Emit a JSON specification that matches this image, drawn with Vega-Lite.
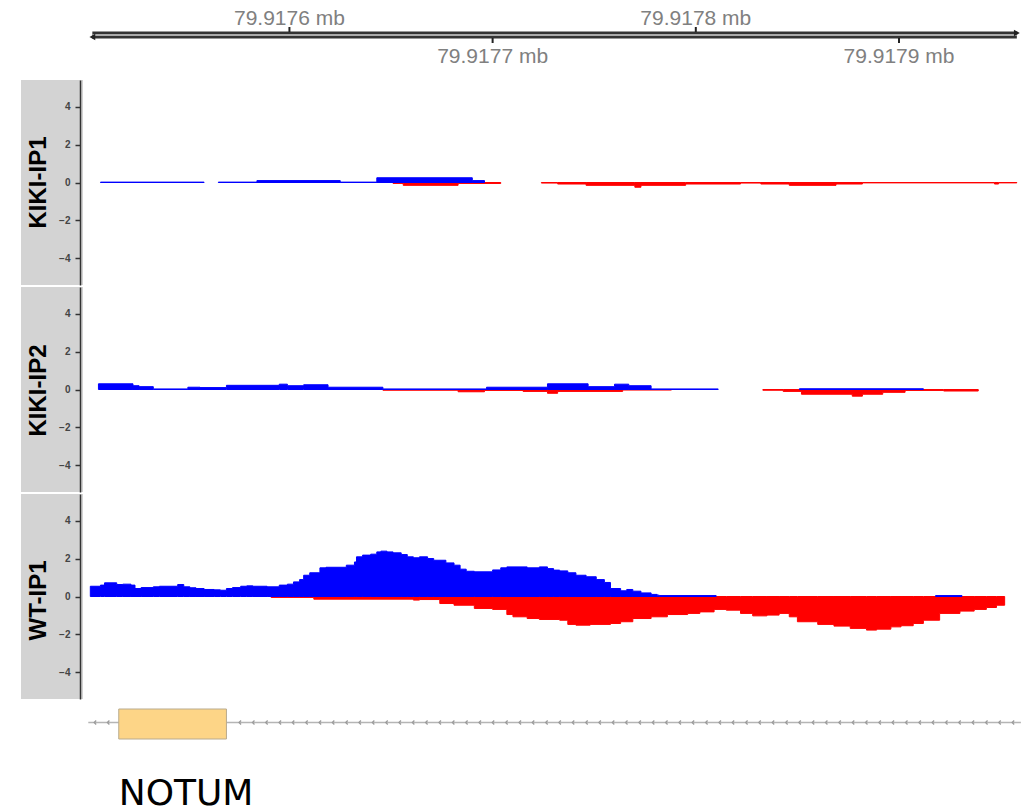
{
"$schema": "https://vega.github.io/schema/vega-lite/v6.json",
"padding": {"left": 21, "top": 0, "right": 0, "bottom": 0},
"background": "white",
"columns": 2,
"spacing": {"row": 2, "column": 0},
"bounds": "flush",
"config": {"view": {"stroke": null}, "font": "Liberation Sans"},
"datasets": {
"axisline": [{"start": 79917503, "end": 79917958}],
"ticks": [
{"pos": 79917600, "label": "79.9176 mb", "side": "above"},
{"pos": 79917700, "label": "79.9177 mb", "side": "below"},
{"pos": 79917800, "label": "79.9178 mb", "side": "above"},
{"pos": 79917900, "label": "79.9179 mb", "side": "below"}
],
"gene": [{"start": 79917516, "end": 79917569, "name": "NOTUM", "lineStart": 79917501, "lineEnd": 79917960}],
"chev": [
{"pos": 79917504.4},{"pos": 79917510.9},{"pos": 79917575.7},{"pos": 79917582.3},{"pos": 79917588.8},{"pos": 79917595.4},{"pos": 79917601.9},{"pos": 79917608.5},{"pos": 79917615.1},{"pos": 79917621.6},{"pos": 79917628.2},{"pos": 79917634.7},{"pos": 79917641.3},{"pos": 79917647.9},{"pos": 79917654.4},{"pos": 79917661.0},{"pos": 79917667.5},{"pos": 79917674.1},{"pos": 79917680.7},{"pos": 79917687.2},{"pos": 79917693.8},{"pos": 79917700.3},{"pos": 79917706.9},{"pos": 79917713.5},{"pos": 79917720.0},{"pos": 79917726.6},{"pos": 79917733.1},{"pos": 79917739.7},{"pos": 79917746.3},{"pos": 79917752.8},{"pos": 79917759.4},{"pos": 79917765.9},{"pos": 79917772.5},{"pos": 79917779.1},{"pos": 79917785.6},{"pos": 79917792.2},{"pos": 79917798.7},{"pos": 79917805.3},{"pos": 79917811.9},{"pos": 79917818.4},{"pos": 79917825.0},{"pos": 79917831.5},{"pos": 79917838.1},{"pos": 79917844.7},{"pos": 79917851.2},{"pos": 79917857.8},{"pos": 79917864.3},{"pos": 79917870.9},{"pos": 79917877.5},{"pos": 79917884.0},{"pos": 79917890.6},{"pos": 79917897.1},{"pos": 79917903.7},{"pos": 79917910.3},{"pos": 79917916.8},{"pos": 79917923.4},{"pos": 79917929.9},{"pos": 79917936.5},{"pos": 79917943.1},{"pos": 79917949.6},{"pos": 79917956.2}
],
"cov": [
{"sample":"KIKI-IP1","strand":"+","seg":1,"pos":79917507,"v":0.02},
{"sample":"KIKI-IP1","strand":"+","seg":1,"pos":79917558,"v":0.02},
{"sample":"KIKI-IP1","strand":"+","seg":2,"pos":79917565,"v":0.02},
{"sample":"KIKI-IP1","strand":"+","seg":2,"pos":79917584,"v":0.10},
{"sample":"KIKI-IP1","strand":"+","seg":2,"pos":79917625,"v":0.02},
{"sample":"KIKI-IP1","strand":"+","seg":2,"pos":79917643,"v":0.25},
{"sample":"KIKI-IP1","strand":"+","seg":2,"pos":79917690,"v":0.10},
{"sample":"KIKI-IP1","strand":"+","seg":2,"pos":79917696,"v":0.10},
{"sample":"KIKI-IP1","strand":"-","seg":1,"pos":79917651,"v":-0.05},
{"sample":"KIKI-IP1","strand":"-","seg":1,"pos":79917656,"v":-0.15},
{"sample":"KIKI-IP1","strand":"-","seg":1,"pos":79917683,"v":-0.05},
{"sample":"KIKI-IP1","strand":"-","seg":1,"pos":79917704,"v":-0.05},
{"sample":"KIKI-IP1","strand":"-","seg":2,"pos":79917724,"v":-0.03},
{"sample":"KIKI-IP1","strand":"-","seg":2,"pos":79917732,"v":-0.08},
{"sample":"KIKI-IP1","strand":"-","seg":2,"pos":79917746,"v":-0.15},
{"sample":"KIKI-IP1","strand":"-","seg":2,"pos":79917770,"v":-0.25},
{"sample":"KIKI-IP1","strand":"-","seg":2,"pos":79917773,"v":-0.15},
{"sample":"KIKI-IP1","strand":"-","seg":2,"pos":79917795,"v":-0.08},
{"sample":"KIKI-IP1","strand":"-","seg":2,"pos":79917822,"v":-0.03},
{"sample":"KIKI-IP1","strand":"-","seg":2,"pos":79917832,"v":-0.08},
{"sample":"KIKI-IP1","strand":"-","seg":2,"pos":79917846,"v":-0.15},
{"sample":"KIKI-IP1","strand":"-","seg":2,"pos":79917869,"v":-0.08},
{"sample":"KIKI-IP1","strand":"-","seg":2,"pos":79917882,"v":-0.02},
{"sample":"KIKI-IP1","strand":"-","seg":2,"pos":79917947,"v":-0.08},
{"sample":"KIKI-IP1","strand":"-","seg":2,"pos":79917949,"v":-0.02},
{"sample":"KIKI-IP1","strand":"-","seg":2,"pos":79917958,"v":-0.02},

{"sample":"KIKI-IP2","strand":"+","seg":1,"pos":79917506,"v":0.30},
{"sample":"KIKI-IP2","strand":"+","seg":1,"pos":79917523,"v":0.20},
{"sample":"KIKI-IP2","strand":"+","seg":1,"pos":79917526,"v":0.15},
{"sample":"KIKI-IP2","strand":"+","seg":1,"pos":79917533,"v":0.03},
{"sample":"KIKI-IP2","strand":"+","seg":1,"pos":79917550,"v":0.12},
{"sample":"KIKI-IP2","strand":"+","seg":1,"pos":79917556,"v":0.10},
{"sample":"KIKI-IP2","strand":"+","seg":1,"pos":79917569,"v":0.22},
{"sample":"KIKI-IP2","strand":"+","seg":1,"pos":79917595,"v":0.28},
{"sample":"KIKI-IP2","strand":"+","seg":1,"pos":79917599,"v":0.20},
{"sample":"KIKI-IP2","strand":"+","seg":1,"pos":79917607,"v":0.25},
{"sample":"KIKI-IP2","strand":"+","seg":1,"pos":79917619,"v":0.12},
{"sample":"KIKI-IP2","strand":"+","seg":1,"pos":79917646,"v":0.03},
{"sample":"KIKI-IP2","strand":"+","seg":1,"pos":79917697,"v":0.12},
{"sample":"KIKI-IP2","strand":"+","seg":1,"pos":79917727,"v":0.30},
{"sample":"KIKI-IP2","strand":"+","seg":1,"pos":79917747,"v":0.15},
{"sample":"KIKI-IP2","strand":"+","seg":1,"pos":79917760,"v":0.28},
{"sample":"KIKI-IP2","strand":"+","seg":1,"pos":79917767,"v":0.20},
{"sample":"KIKI-IP2","strand":"+","seg":1,"pos":79917778,"v":0.03},
{"sample":"KIKI-IP2","strand":"+","seg":1,"pos":79917811,"v":0.03},
{"sample":"KIKI-IP2","strand":"+","seg":2,"pos":79917851,"v":0.04},
{"sample":"KIKI-IP2","strand":"+","seg":2,"pos":79917912,"v":0.04},
{"sample":"KIKI-IP2","strand":"-","seg":1,"pos":79917646,"v":-0.04},
{"sample":"KIKI-IP2","strand":"-","seg":1,"pos":79917683,"v":-0.12},
{"sample":"KIKI-IP2","strand":"-","seg":1,"pos":79917696,"v":-0.05},
{"sample":"KIKI-IP2","strand":"-","seg":1,"pos":79917715,"v":-0.10},
{"sample":"KIKI-IP2","strand":"-","seg":1,"pos":79917727,"v":-0.20},
{"sample":"KIKI-IP2","strand":"-","seg":1,"pos":79917732,"v":-0.10},
{"sample":"KIKI-IP2","strand":"-","seg":1,"pos":79917764,"v":-0.03},
{"sample":"KIKI-IP2","strand":"-","seg":1,"pos":79917788,"v":-0.03},
{"sample":"KIKI-IP2","strand":"-","seg":2,"pos":79917833,"v":-0.04},
{"sample":"KIKI-IP2","strand":"-","seg":2,"pos":79917843,"v":-0.10},
{"sample":"KIKI-IP2","strand":"-","seg":2,"pos":79917852,"v":-0.25},
{"sample":"KIKI-IP2","strand":"-","seg":2,"pos":79917877,"v":-0.35},
{"sample":"KIKI-IP2","strand":"-","seg":2,"pos":79917882,"v":-0.25},
{"sample":"KIKI-IP2","strand":"-","seg":2,"pos":79917892,"v":-0.15},
{"sample":"KIKI-IP2","strand":"-","seg":2,"pos":79917903,"v":-0.05},
{"sample":"KIKI-IP2","strand":"-","seg":2,"pos":79917922,"v":-0.08},
{"sample":"KIKI-IP2","strand":"-","seg":2,"pos":79917939,"v":-0.08},

{"sample":"WT-IP1","strand":"+","seg":1,"pos":79917502,"v":0.54},
{"sample":"WT-IP1","strand":"+","seg":1,"pos":79917507,"v":0.60},
{"sample":"WT-IP1","strand":"+","seg":1,"pos":79917509,"v":0.72},
{"sample":"WT-IP1","strand":"+","seg":1,"pos":79917515,"v":0.63},
{"sample":"WT-IP1","strand":"+","seg":1,"pos":79917518,"v":0.65},
{"sample":"WT-IP1","strand":"+","seg":1,"pos":79917522,"v":0.60},
{"sample":"WT-IP1","strand":"+","seg":1,"pos":79917524,"v":0.42},
{"sample":"WT-IP1","strand":"+","seg":1,"pos":79917527,"v":0.47},
{"sample":"WT-IP1","strand":"+","seg":1,"pos":79917533,"v":0.51},
{"sample":"WT-IP1","strand":"+","seg":1,"pos":79917536,"v":0.54},
{"sample":"WT-IP1","strand":"+","seg":1,"pos":79917545,"v":0.63},
{"sample":"WT-IP1","strand":"+","seg":1,"pos":79917548,"v":0.51},
{"sample":"WT-IP1","strand":"+","seg":1,"pos":79917551,"v":0.46},
{"sample":"WT-IP1","strand":"+","seg":1,"pos":79917554,"v":0.42},
{"sample":"WT-IP1","strand":"+","seg":1,"pos":79917558,"v":0.37},
{"sample":"WT-IP1","strand":"+","seg":1,"pos":79917563,"v":0.35},
{"sample":"WT-IP1","strand":"+","seg":1,"pos":79917566,"v":0.33},
{"sample":"WT-IP1","strand":"+","seg":1,"pos":79917569,"v":0.42},
{"sample":"WT-IP1","strand":"+","seg":1,"pos":79917572,"v":0.47},
{"sample":"WT-IP1","strand":"+","seg":1,"pos":79917576,"v":0.54},
{"sample":"WT-IP1","strand":"+","seg":1,"pos":79917579,"v":0.56},
{"sample":"WT-IP1","strand":"+","seg":1,"pos":79917582,"v":0.54},
{"sample":"WT-IP1","strand":"+","seg":1,"pos":79917589,"v":0.51},
{"sample":"WT-IP1","strand":"+","seg":1,"pos":79917595,"v":0.60},
{"sample":"WT-IP1","strand":"+","seg":1,"pos":79917599,"v":0.65},
{"sample":"WT-IP1","strand":"+","seg":1,"pos":79917602,"v":0.77},
{"sample":"WT-IP1","strand":"+","seg":1,"pos":79917605,"v":0.89},
{"sample":"WT-IP1","strand":"+","seg":1,"pos":79917607,"v":1.12},
{"sample":"WT-IP1","strand":"+","seg":1,"pos":79917610,"v":1.25},
{"sample":"WT-IP1","strand":"+","seg":1,"pos":79917615,"v":1.51},
{"sample":"WT-IP1","strand":"+","seg":1,"pos":79917618,"v":1.54},
{"sample":"WT-IP1","strand":"+","seg":1,"pos":79917628,"v":1.65},
{"sample":"WT-IP1","strand":"+","seg":1,"pos":79917632,"v":1.82},
{"sample":"WT-IP1","strand":"+","seg":1,"pos":79917633,"v":2.09},
{"sample":"WT-IP1","strand":"+","seg":1,"pos":79917636,"v":2.18},
{"sample":"WT-IP1","strand":"+","seg":1,"pos":79917640,"v":2.23},
{"sample":"WT-IP1","strand":"+","seg":1,"pos":79917643,"v":2.35},
{"sample":"WT-IP1","strand":"+","seg":1,"pos":79917645,"v":2.39},
{"sample":"WT-IP1","strand":"+","seg":1,"pos":79917648,"v":2.35},
{"sample":"WT-IP1","strand":"+","seg":1,"pos":79917651,"v":2.30},
{"sample":"WT-IP1","strand":"+","seg":1,"pos":79917655,"v":2.21},
{"sample":"WT-IP1","strand":"+","seg":1,"pos":79917658,"v":2.09},
{"sample":"WT-IP1","strand":"+","seg":1,"pos":79917661,"v":2.04},
{"sample":"WT-IP1","strand":"+","seg":1,"pos":79917664,"v":2.09},
{"sample":"WT-IP1","strand":"+","seg":1,"pos":79917668,"v":2.00},
{"sample":"WT-IP1","strand":"+","seg":1,"pos":79917671,"v":1.91},
{"sample":"WT-IP1","strand":"+","seg":1,"pos":79917677,"v":1.77},
{"sample":"WT-IP1","strand":"+","seg":1,"pos":79917681,"v":1.65},
{"sample":"WT-IP1","strand":"+","seg":1,"pos":79917684,"v":1.44},
{"sample":"WT-IP1","strand":"+","seg":1,"pos":79917687,"v":1.33},
{"sample":"WT-IP1","strand":"+","seg":1,"pos":79917691,"v":1.30},
{"sample":"WT-IP1","strand":"+","seg":1,"pos":79917700,"v":1.40},
{"sample":"WT-IP1","strand":"+","seg":1,"pos":79917704,"v":1.51},
{"sample":"WT-IP1","strand":"+","seg":1,"pos":79917707,"v":1.56},
{"sample":"WT-IP1","strand":"+","seg":1,"pos":79917717,"v":1.51},
{"sample":"WT-IP1","strand":"+","seg":1,"pos":79917723,"v":1.56},
{"sample":"WT-IP1","strand":"+","seg":1,"pos":79917727,"v":1.47},
{"sample":"WT-IP1","strand":"+","seg":1,"pos":79917730,"v":1.39},
{"sample":"WT-IP1","strand":"+","seg":1,"pos":79917733,"v":1.35},
{"sample":"WT-IP1","strand":"+","seg":1,"pos":79917737,"v":1.25},
{"sample":"WT-IP1","strand":"+","seg":1,"pos":79917741,"v":1.12},
{"sample":"WT-IP1","strand":"+","seg":1,"pos":79917746,"v":1.04},
{"sample":"WT-IP1","strand":"+","seg":1,"pos":79917751,"v":0.89},
{"sample":"WT-IP1","strand":"+","seg":1,"pos":79917755,"v":0.74},
{"sample":"WT-IP1","strand":"+","seg":1,"pos":79917758,"v":0.42},
{"sample":"WT-IP1","strand":"+","seg":1,"pos":79917763,"v":0.30},
{"sample":"WT-IP1","strand":"+","seg":1,"pos":79917766,"v":0.37},
{"sample":"WT-IP1","strand":"+","seg":1,"pos":79917769,"v":0.28},
{"sample":"WT-IP1","strand":"+","seg":1,"pos":79917773,"v":0.19},
{"sample":"WT-IP1","strand":"+","seg":1,"pos":79917778,"v":0.11},
{"sample":"WT-IP1","strand":"+","seg":1,"pos":79917781,"v":0.07},
{"sample":"WT-IP1","strand":"+","seg":1,"pos":79917782,"v":0.05},
{"sample":"WT-IP1","strand":"+","seg":1,"pos":79917810,"v":0.05},
{"sample":"WT-IP1","strand":"+","seg":2,"pos":79917918,"v":0.05},
{"sample":"WT-IP1","strand":"+","seg":2,"pos":79917931,"v":0.05},
{"sample":"WT-IP1","strand":"-","seg":1,"pos":79917591,"v":-0.05},
{"sample":"WT-IP1","strand":"-","seg":1,"pos":79917612,"v":-0.14},
{"sample":"WT-IP1","strand":"-","seg":1,"pos":79917661,"v":-0.19},
{"sample":"WT-IP1","strand":"-","seg":1,"pos":79917664,"v":-0.16},
{"sample":"WT-IP1","strand":"-","seg":1,"pos":79917674,"v":-0.37},
{"sample":"WT-IP1","strand":"-","seg":1,"pos":79917681,"v":-0.46},
{"sample":"WT-IP1","strand":"-","seg":1,"pos":79917691,"v":-0.63},
{"sample":"WT-IP1","strand":"-","seg":1,"pos":79917700,"v":-0.68},
{"sample":"WT-IP1","strand":"-","seg":1,"pos":79917707,"v":-0.95},
{"sample":"WT-IP1","strand":"-","seg":1,"pos":79917710,"v":-1.07},
{"sample":"WT-IP1","strand":"-","seg":1,"pos":79917717,"v":-1.16},
{"sample":"WT-IP1","strand":"-","seg":1,"pos":79917723,"v":-1.21},
{"sample":"WT-IP1","strand":"-","seg":1,"pos":79917733,"v":-1.25},
{"sample":"WT-IP1","strand":"-","seg":1,"pos":79917737,"v":-1.47},
{"sample":"WT-IP1","strand":"-","seg":1,"pos":79917741,"v":-1.51},
{"sample":"WT-IP1","strand":"-","seg":1,"pos":79917748,"v":-1.47},
{"sample":"WT-IP1","strand":"-","seg":1,"pos":79917758,"v":-1.42},
{"sample":"WT-IP1","strand":"-","seg":1,"pos":79917763,"v":-1.33},
{"sample":"WT-IP1","strand":"-","seg":1,"pos":79917769,"v":-1.16},
{"sample":"WT-IP1","strand":"-","seg":1,"pos":79917778,"v":-1.07},
{"sample":"WT-IP1","strand":"-","seg":1,"pos":79917786,"v":-0.95},
{"sample":"WT-IP1","strand":"-","seg":1,"pos":79917796,"v":-0.89},
{"sample":"WT-IP1","strand":"-","seg":1,"pos":79917802,"v":-0.81},
{"sample":"WT-IP1","strand":"-","seg":1,"pos":79917809,"v":-0.68},
{"sample":"WT-IP1","strand":"-","seg":1,"pos":79917815,"v":-0.72},
{"sample":"WT-IP1","strand":"-","seg":1,"pos":79917822,"v":-0.89},
{"sample":"WT-IP1","strand":"-","seg":1,"pos":79917828,"v":-1.02},
{"sample":"WT-IP1","strand":"-","seg":1,"pos":79917835,"v":-0.98},
{"sample":"WT-IP1","strand":"-","seg":1,"pos":79917841,"v":-0.89},
{"sample":"WT-IP1","strand":"-","seg":1,"pos":79917846,"v":-1.07},
{"sample":"WT-IP1","strand":"-","seg":1,"pos":79917850,"v":-1.33},
{"sample":"WT-IP1","strand":"-","seg":1,"pos":79917860,"v":-1.47},
{"sample":"WT-IP1","strand":"-","seg":1,"pos":79917868,"v":-1.56},
{"sample":"WT-IP1","strand":"-","seg":1,"pos":79917876,"v":-1.68},
{"sample":"WT-IP1","strand":"-","seg":1,"pos":79917884,"v":-1.77},
{"sample":"WT-IP1","strand":"-","seg":1,"pos":79917889,"v":-1.72},
{"sample":"WT-IP1","strand":"-","seg":1,"pos":79917896,"v":-1.60},
{"sample":"WT-IP1","strand":"-","seg":1,"pos":79917901,"v":-1.54},
{"sample":"WT-IP1","strand":"-","seg":1,"pos":79917907,"v":-1.42},
{"sample":"WT-IP1","strand":"-","seg":1,"pos":79917912,"v":-1.25},
{"sample":"WT-IP1","strand":"-","seg":1,"pos":79917920,"v":-0.89},
{"sample":"WT-IP1","strand":"-","seg":1,"pos":79917930,"v":-0.77},
{"sample":"WT-IP1","strand":"-","seg":1,"pos":79917937,"v":-0.68},
{"sample":"WT-IP1","strand":"-","seg":1,"pos":79917943,"v":-0.58},
{"sample":"WT-IP1","strand":"-","seg":1,"pos":79917948,"v":-0.46},
{"sample":"WT-IP1","strand":"-","seg":1,"pos":79917952,"v":-0.46}
]
},
"concat": [
{"width": 62, "height": 78, "data": {"values": []}, "mark": "point", "encoding": {}},
{"width": 944, "height": 78,
 "layer": [
  {"data": {"name": "axisline"}, "mark": {"type": "rule", "color": "#333333", "strokeWidth": 7},
   "encoding": {"x": {"field": "start", "type": "quantitative", "scale": {"domain": [79917498.4, 79917963], "nice": false, "zero": false}, "axis": null},
                "x2": {"field": "end"},
                "y": {"datum": 0, "type": "quantitative", "scale": {"domain": [-35, 43], "reverse": true, "nice": false, "zero": false}, "axis": null}}},
  {"data": {"name": "axisline"}, "mark": {"type": "rule", "color": "#aaaaaa", "strokeWidth": 2},
   "encoding": {"x": {"field": "start", "type": "quantitative"}, "x2": {"field": "end"}, "y": {"datum": 0, "type": "quantitative"}}},
  {"data": {"name": "axisline"}, "mark": {"type": "point", "shape": "triangle-left", "filled": true, "color": "#222222", "size": 45, "opacity": 1},
   "encoding": {"x": {"field": "start", "type": "quantitative"}, "y": {"datum": 2, "type": "quantitative"}}},
  {"data": {"name": "axisline"}, "mark": {"type": "point", "shape": "triangle-right", "filled": true, "color": "#222222", "size": 45, "opacity": 1},
   "encoding": {"x": {"field": "end", "type": "quantitative"}, "y": {"datum": -2, "type": "quantitative"}}},
  {"data": {"name": "ticks"}, "transform": [{"filter": "datum.side == 'above'"}], "mark": {"type": "rule", "color": "#222222", "strokeWidth": 2},
   "encoding": {"x": {"field": "pos", "type": "quantitative"}, "y": {"datum": -8, "type": "quantitative"}, "y2": {"datum": -3}}},
  {"data": {"name": "ticks"}, "transform": [{"filter": "datum.side == 'below'"}], "mark": {"type": "rule", "color": "#222222", "strokeWidth": 2},
   "encoding": {"x": {"field": "pos", "type": "quantitative"}, "y": {"datum": 3, "type": "quantitative"}, "y2": {"datum": 8}}},
  {"data": {"name": "ticks"}, "transform": [{"filter": "datum.side == 'above'"}], "mark": {"type": "text", "color": "#808080", "fontSize": 21, "font": "Liberation Sans", "baseline": "alphabetic", "align": "center"},
   "encoding": {"x": {"field": "pos", "type": "quantitative"}, "y": {"datum": -10, "type": "quantitative"}, "text": {"field": "label"}}},
  {"data": {"name": "ticks"}, "transform": [{"filter": "datum.side == 'below'"}], "mark": {"type": "text", "color": "#808080", "fontSize": 21, "font": "Liberation Sans", "baseline": "alphabetic", "align": "center"},
   "encoding": {"x": {"field": "pos", "type": "quantitative"}, "y": {"datum": 27.5, "type": "quantitative"}, "text": {"field": "label"}}}
 ]},

{"width": 62, "height": 205, "view": {"fill": "#d3d3d3", "stroke": null}, "data": {"values": []}, "mark": "point", "encoding": {}},
{"width": 944, "height": 205, "data": {"name": "cov"},
 "transform": [{"filter": "datum.sample == 'KIKI-IP1'"}],
 "encoding": {
  "x": {"field": "pos", "type": "quantitative", "scale": {"domain": [79917498.4, 79917963], "nice": false, "zero": false}, "axis": null},
  "y": {"field": "v", "type": "quantitative", "scale": {"domain": [-5.4, 5.4], "nice": false},
        "axis": {"values": [-4, -2, 0, 2, 4], "title": "KIKI-IP1", "grid": false, "offset": 3, "tickSize": 5, "labelPadding": 5,
                 "domainColor": "#333333", "domainWidth": 1.5, "tickColor": "#333333", "tickWidth": 1.5,
                 "labelFont": "Liberation Sans", "labelFontSize": 10, "labelFontWeight": "bold", "labelColor": "#444444",
                 "titleFont": "Liberation Sans", "titleFontSize": 24, "titleFontWeight": "bold", "titleColor": "#000000",
                 "titleAngle": 270, "titleX": -35, "titleY": 102, "titleAlign": "center", "titleBaseline": "alphabetic"}},
  "y2": {"datum": 0},
  "detail": {"field": "seg"}
 },
 "layer": [
  {"transform": [{"filter": "datum.strand == '-'"}], "mark": {"type": "area", "interpolate": "step-after", "color": "#ff0000", "stroke": "#ff0000", "strokeWidth": 1}},
  {"transform": [{"filter": "datum.strand == '+'"}], "mark": {"type": "area", "interpolate": "step-after", "color": "#0000ff", "stroke": "#0000ff", "strokeWidth": 1}}
 ]},

{"width": 62, "height": 205, "view": {"fill": "#d3d3d3", "stroke": null}, "data": {"values": []}, "mark": "point", "encoding": {}},
{"width": 944, "height": 205, "data": {"name": "cov"},
 "transform": [{"filter": "datum.sample == 'KIKI-IP2'"}],
 "encoding": {
  "x": {"field": "pos", "type": "quantitative", "scale": {"domain": [79917498.4, 79917963], "nice": false, "zero": false}, "axis": null},
  "y": {"field": "v", "type": "quantitative", "scale": {"domain": [-5.4, 5.4], "nice": false},
        "axis": {"values": [-4, -2, 0, 2, 4], "title": "KIKI-IP2", "grid": false, "offset": 3, "tickSize": 5, "labelPadding": 5,
                 "domainColor": "#333333", "domainWidth": 1.5, "tickColor": "#333333", "tickWidth": 1.5,
                 "labelFont": "Liberation Sans", "labelFontSize": 10, "labelFontWeight": "bold", "labelColor": "#444444",
                 "titleFont": "Liberation Sans", "titleFontSize": 24, "titleFontWeight": "bold", "titleColor": "#000000",
                 "titleAngle": 270, "titleX": -35, "titleY": 103, "titleAlign": "center", "titleBaseline": "alphabetic"}},
  "y2": {"datum": 0},
  "detail": {"field": "seg"}
 },
 "layer": [
  {"transform": [{"filter": "datum.strand == '-'"}], "mark": {"type": "area", "interpolate": "step-after", "color": "#ff0000", "stroke": "#ff0000", "strokeWidth": 1}},
  {"transform": [{"filter": "datum.strand == '+'"}], "mark": {"type": "area", "interpolate": "step-after", "color": "#0000ff", "stroke": "#0000ff", "strokeWidth": 1}}
 ]},

{"width": 62, "height": 205, "view": {"fill": "#d3d3d3", "stroke": null}, "data": {"values": []}, "mark": "point", "encoding": {}},
{"width": 944, "height": 205, "data": {"name": "cov"},
 "transform": [{"filter": "datum.sample == 'WT-IP1'"}],
 "encoding": {
  "x": {"field": "pos", "type": "quantitative", "scale": {"domain": [79917498.4, 79917963], "nice": false, "zero": false}, "axis": null},
  "y": {"field": "v", "type": "quantitative", "scale": {"domain": [-5.4, 5.4], "nice": false},
        "axis": {"values": [-4, -2, 0, 2, 4], "title": "WT-IP1", "grid": false, "offset": 3, "tickSize": 5, "labelPadding": 5,
                 "domainColor": "#333333", "domainWidth": 1.5, "tickColor": "#333333", "tickWidth": 1.5,
                 "labelFont": "Liberation Sans", "labelFontSize": 10, "labelFontWeight": "bold", "labelColor": "#444444",
                 "titleFont": "Liberation Sans", "titleFontSize": 24, "titleFontWeight": "bold", "titleColor": "#000000",
                 "titleAngle": 270, "titleX": -35, "titleY": 106, "titleAlign": "center", "titleBaseline": "alphabetic"}},
  "y2": {"datum": 0},
  "detail": {"field": "seg"}
 },
 "layer": [
  {"transform": [{"filter": "datum.strand == '-'"}], "mark": {"type": "area", "interpolate": "step-after", "color": "#ff0000", "stroke": "#ff0000", "strokeWidth": 1}},
  {"transform": [{"filter": "datum.strand == '+'"}], "mark": {"type": "area", "interpolate": "step-after", "color": "#0000ff", "stroke": "#0000ff", "strokeWidth": 1}}
 ]},

{"width": 62, "height": 111, "data": {"values": []}, "mark": "point", "encoding": {}},
{"width": 944, "height": 111,
 "layer": [
  {"data": {"name": "gene"}, "mark": {"type": "rule", "color": "#b5b5b5", "strokeWidth": 1.5},
   "encoding": {"x": {"field": "lineStart", "type": "quantitative", "scale": {"domain": [79917498.4, 79917963], "nice": false, "zero": false}, "axis": null},
                "x2": {"field": "lineEnd"},
                "y": {"datum": 0, "type": "quantitative", "scale": {"domain": [-21.5, 89.5], "reverse": true, "nice": false, "zero": false}, "axis": null}}},
  {"data": {"name": "chev"}, "mark": {"type": "point", "shape": "M0.5,-1L-0.5,0L0.5,1", "filled": false, "color": "#9a9a9a", "strokeWidth": 1.3, "size": 16, "opacity": 1},
   "encoding": {"x": {"field": "pos", "type": "quantitative"}, "y": {"datum": 0, "type": "quantitative"}}},
  {"data": {"name": "gene"}, "mark": {"type": "rect", "fill": "#fdd587", "stroke": "#b9ab8e", "strokeWidth": 1},
   "encoding": {"x": {"field": "start", "type": "quantitative"}, "x2": {"field": "end"}, "y": {"datum": -13.5, "type": "quantitative"}, "y2": {"datum": 16.5}}},
  {"data": {"name": "gene"}, "mark": {"type": "text", "font": "DejaVu Sans", "fontSize": 36, "color": "#000000", "align": "left", "baseline": "alphabetic"},
   "encoding": {"x": {"field": "start", "type": "quantitative"}, "y": {"datum": 82.5, "type": "quantitative"}, "text": {"field": "name"}}}
 ]}
]
}
